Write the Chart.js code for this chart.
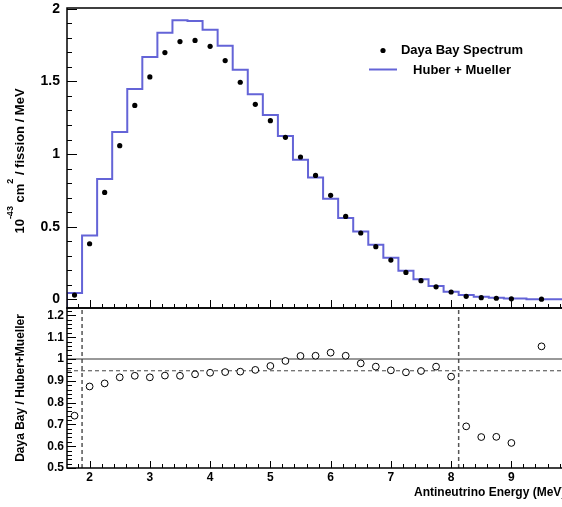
<!DOCTYPE html>
<html>
<head>
<meta charset="utf-8">
<script src="https://cdn.jsdelivr.net/npm/chart.js@4.4.1/dist/chart.umd.min.js"></script>
<style>
  body { margin: 0; background: #fff; }
  #wrap { position: relative; width: 562px; height: 507px; }
  canvas { position: absolute; left: 0; top: 0; }
</style>
</head>
<body>
<div id="wrap">
  <canvas id="spectrum" width="562" height="507"></canvas>
  <canvas id="ratio" width="562" height="507"></canvas>
</div>
<script>
// bin centres in MeV
const energy = [1.75, 2.0, 2.25, 2.5, 2.75, 3.0, 3.25, 3.5, 3.75, 4.0, 4.25, 4.5, 4.75,
  5.0, 5.25, 5.5, 5.75, 6.0, 6.25, 6.5, 6.75, 7.0, 7.25, 7.5, 7.75, 8.0, 8.25, 8.5,
  8.75, 9.0, 9.5];
// 1e-43 cm^2 / fission / MeV
const dayaBay = [0.030, 0.383, 0.736, 1.058, 1.335, 1.531, 1.698, 1.774, 1.782, 1.741,
  1.643, 1.494, 1.342, 1.230, 1.115, 0.980, 0.853, 0.716, 0.571, 0.457, 0.363, 0.271,
  0.186, 0.129, 0.087, 0.051, 0.021, 0.012, 0.008, 0.004, 0.002];
const huberMueller = [0.044, 0.440, 0.829, 1.152, 1.448, 1.668, 1.834, 1.920, 1.916,
  1.856, 1.746, 1.581, 1.411, 1.269, 1.125, 0.961, 0.838, 0.693, 0.560, 0.468, 0.376,
  0.287, 0.198, 0.138, 0.092, 0.053, 0.030, 0.019, 0.012, 0.007, 0.002];
const ratio = [0.740, 0.874, 0.888, 0.916, 0.923, 0.916, 0.924, 0.923, 0.930, 0.937,
  0.940, 0.942, 0.950, 0.968, 0.991, 1.014, 1.015, 1.029, 1.015, 0.980, 0.965, 0.948,
  0.939, 0.945, 0.965, 0.919, 0.691, 0.642, 0.643, 0.615, 1.058];

const spectrumTicks = [0, 0.5, 1, 1.5, 2];
const ratioTicks = [0.5, 0.6, 0.7, 0.8, 0.9, 1, 1.1, 1.2];
const energyTicks = [2, 3, 4, 5, 6, 7, 8, 9];
const ratioMean = 0.946;
const fitWindow = [1.875, 8.125];

const X_MIN = 1.625, X_MAX = 9.84;
const SPEC_MIN = -0.059, SPEC_MAX = 2.005;
const RATIO_MIN = 0.5, RATIO_MAX = 1.234;
const FONT = "'Liberation Sans', Arial, sans-serif";
const HIST_COLOR = "#6464d7";

Chart.defaults.font.family = FONT;
Chart.defaults.font.weight = "bold";
Chart.defaults.color = "#000";

// step outline of the prediction, starting at the frame bottom like ROOT does
function histPoints() {
  const pts = [{ x: X_MIN, y: SPEC_MIN }];
  for (let i = 0; i < energy.length; i++) {
    const lo = i === 0 ? X_MIN : (energy[i - 1] + energy[i]) / 2;
    pts.push({ x: lo, y: huberMueller[i] });
  }
  pts.push({ x: X_MAX, y: huberMueller[huberMueller.length - 1] });
  return pts;
}

// keep the frame where we put it, no extra room for half labels
function fixWidth(w) {
  return (s) => {
    s.width = w;
    s.paddingTop = 0;
    s.paddingBottom = 0;
  };
}
function fixHeight(h) {
  return (s) => {
    s.height = h;
    s.paddingLeft = 0;
    s.paddingRight = 0;
  };
}

// ticks drawn inside the frame, major + minor
function drawTicks(chart, cfg) {
  const { ctx, chartArea: a, scales } = chart;
  const x = scales.x, y = scales.y;
  ctx.save();
  ctx.strokeStyle = "#000";
  ctx.lineWidth = 1;
  ctx.beginPath();
  for (let k = Math.ceil(x.min / cfg.xMinor); k * cfg.xMinor <= x.max; k++) {
    const v = k * cfg.xMinor;
    const major = Math.abs(v - Math.round(v)) < 1e-6;
    const px = Math.round(x.getPixelForValue(v)) + 0.5;
    ctx.moveTo(px, a.bottom);
    ctx.lineTo(px, a.bottom - (major ? cfg.xMajorLen : cfg.xMinorLen));
  }
  for (let k = Math.ceil(y.min / cfg.yMinor - 1e-6); k * cfg.yMinor <= y.max + 1e-9; k++) {
    const v = k * cfg.yMinor;
    const r = v / cfg.yMajor;
    const major = Math.abs(r - Math.round(r)) < 1e-6;
    const py = Math.round(y.getPixelForValue(v)) + 0.5;
    ctx.moveTo(a.left, py);
    ctx.lineTo(a.left + (major ? cfg.yMajorLen : cfg.yMinorLen), py);
  }
  ctx.stroke();
  // frame
  ctx.lineWidth = 1.5;
  ctx.beginPath();
  ctx.moveTo(a.right + 2, a.top);
  ctx.lineTo(a.left, a.top);
  ctx.lineTo(a.left, a.bottom);
  ctx.lineTo(a.right + 2, a.bottom);
  ctx.stroke();
  ctx.restore();
}

// rotated title made of plain and superscript pieces
function drawRotated(ctx, parts, cx, cy, size, supSize, supRise) {
  ctx.save();
  ctx.translate(cx, cy);
  ctx.rotate(-Math.PI / 2);
  ctx.fillStyle = "#000";
  ctx.textBaseline = "alphabetic";
  ctx.textAlign = "left";
  let total = 0;
  parts.forEach((p) => {
    ctx.font = "bold " + (p.sup ? supSize : size) + "px " + FONT;
    p.w = ctx.measureText(p.t).width;
    total += p.w;
  });
  let pos = -total / 2;
  parts.forEach((p) => {
    ctx.font = "bold " + (p.sup ? supSize : size) + "px " + FONT;
    ctx.fillText(p.t, pos, p.sup ? -supRise : 0);
    pos += p.w;
  });
  ctx.restore();
}

const spectrumDeco = {
  id: "spectrumDeco",
  afterDraw(chart) {
    const ctx = chart.ctx;
    drawTicks(chart, {
      xMinor: 0.2, xMajorLen: 8, xMinorLen: 4,
      yMinor: 0.1, yMajor: 0.5, yMajorLen: 10, yMinorLen: 5,
    });
    drawRotated(ctx, [
      { t: "10" }, { t: "-43", sup: true }, { t: " cm" }, { t: "2", sup: true },
      { t: " / fission / MeV" },
    ], 24, 161, 13, 9, 11);

    // legend
    ctx.save();
    ctx.fillStyle = "#000";
    ctx.beginPath();
    ctx.arc(383, 50.5, 2.6, 0, Math.PI * 2);
    ctx.fill();
    ctx.strokeStyle = HIST_COLOR;
    ctx.lineWidth = 2;
    ctx.beginPath();
    ctx.moveTo(369, 69.5);
    ctx.lineTo(397, 69.5);
    ctx.stroke();
    ctx.font = "bold 13px " + FONT;
    ctx.textAlign = "center";
    ctx.textBaseline = "middle";
    ctx.fillText("Daya Bay Spectrum", 462, 50);
    ctx.fillText("Huber + Mueller", 462, 70);
    ctx.restore();
  },
};

const ratioDeco = {
  id: "ratioDeco",
  afterDraw(chart) {
    const ctx = chart.ctx;
    drawTicks(chart, {
      xMinor: 0.2, xMajorLen: 7, xMinorLen: 4,
      yMinor: 0.02, yMajor: 0.1, yMajorLen: 9, yMinorLen: 5,
    });
    drawRotated(ctx, [{ t: "Daya Bay / Huber+Mueller" }], 24, 388, 12, 9, 0);
    ctx.save();
    ctx.fillStyle = "#000";
    ctx.font = "bold 12px " + FONT;
    ctx.textAlign = "left";
    ctx.textBaseline = "middle";
    ctx.fillText("Antineutrino Energy (MeV)", 414, 493);
    ctx.restore();
  },
};

new Chart(document.getElementById("spectrum"), {
  type: "scatter",
  data: {
    datasets: [
      {
        label: "Daya Bay Spectrum",
        data: energy.map((e, i) => ({ x: e, y: dayaBay[i] })),
        pointRadius: 2.6,
        pointBackgroundColor: "#000",
        pointBorderWidth: 0,
        showLine: false,
      },
      {
        label: "Huber + Mueller",
        data: histPoints(),
        showLine: true,
        stepped: "before",
        borderColor: HIST_COLOR,
        borderWidth: 2,
        pointRadius: 0,
        fill: false,
      },
    ],
  },
  options: {
    responsive: false,
    animation: false,
    devicePixelRatio: 1,
    events: [],
    layout: { autoPadding: false, padding: { top: 8, left: 0, right: 0, bottom: 0 } },
    plugins: { legend: { display: false }, tooltip: { enabled: false } },
    scales: {
      x: {
        type: "linear",
        min: X_MIN,
        max: X_MAX,
        grid: { display: false, drawTicks: false },
        border: { display: false },
        ticks: { display: false },
        afterFit: fixHeight(507 - 308),
      },
      y: {
        min: SPEC_MIN,
        max: SPEC_MAX,
        grid: { display: false, drawTicks: false },
        border: { display: false },
        afterBuildTicks: (s) => { s.ticks = spectrumTicks.map((v) => ({ value: v })); },
        ticks: { padding: 7, font: { size: 14, weight: "bold" }, callback: (v) => String(v) },
        afterFit: fixWidth(67),
      },
    },
  },
  plugins: [spectrumDeco],
});

new Chart(document.getElementById("ratio"), {
  type: "scatter",
  data: {
    datasets: [
      {
        label: "ratio",
        data: energy.map((e, i) => ({ x: e, y: ratio[i] })),
        pointRadius: 3.4,
        pointBackgroundColor: "#fff",
        pointBorderColor: "#000",
        pointBorderWidth: 1,
        showLine: false,
      },
      {
        label: "unity",
        data: [{ x: X_MIN, y: 1 }, { x: X_MAX, y: 1 }],
        showLine: true,
        borderColor: "#333",
        borderWidth: 1,
        pointRadius: 0,
      },
      {
        label: "mean",
        data: [{ x: X_MIN, y: ratioMean }, { x: X_MAX, y: ratioMean }],
        showLine: true,
        borderColor: "#444",
        borderWidth: 1,
        borderDash: [4, 3],
        pointRadius: 0,
      },
      {
        label: "low edge",
        data: [{ x: fitWindow[0], y: RATIO_MIN }, { x: fitWindow[0], y: RATIO_MAX }],
        showLine: true,
        borderColor: "#555",
        borderWidth: 1.5,
        borderDash: [4, 3],
        pointRadius: 0,
      },
      {
        label: "high edge",
        data: [{ x: fitWindow[1], y: RATIO_MIN }, { x: fitWindow[1], y: RATIO_MAX }],
        showLine: true,
        borderColor: "#555",
        borderWidth: 1.5,
        borderDash: [4, 3],
        pointRadius: 0,
      },
    ],
  },
  options: {
    responsive: false,
    animation: false,
    devicePixelRatio: 1,
    events: [],
    layout: { autoPadding: false, padding: { top: 308, left: 0, right: 0, bottom: 0 } },
    plugins: { legend: { display: false }, tooltip: { enabled: false } },
    scales: {
      x: {
        type: "linear",
        min: X_MIN,
        max: X_MAX,
        grid: { display: false, drawTicks: false },
        border: { display: false },
        afterBuildTicks: (s) => { s.ticks = energyTicks.map((v) => ({ value: v })); },
        ticks: { padding: 2, maxRotation: 0, font: { size: 12, weight: "bold" }, callback: (v) => String(v) },
        afterFit: fixHeight(507 - 468),
      },
      y: {
        min: RATIO_MIN,
        max: RATIO_MAX,
        grid: { display: false, drawTicks: false },
        border: { display: false },
        afterBuildTicks: (s) => { s.ticks = ratioTicks.map((v) => ({ value: v })); },
        ticks: { padding: 3, font: { size: 12, weight: "bold" }, callback: (v) => String(v) },
        afterFit: fixWidth(67),
      },
    },
  },
  plugins: [ratioDeco],
});
</script>
</body>
</html>
